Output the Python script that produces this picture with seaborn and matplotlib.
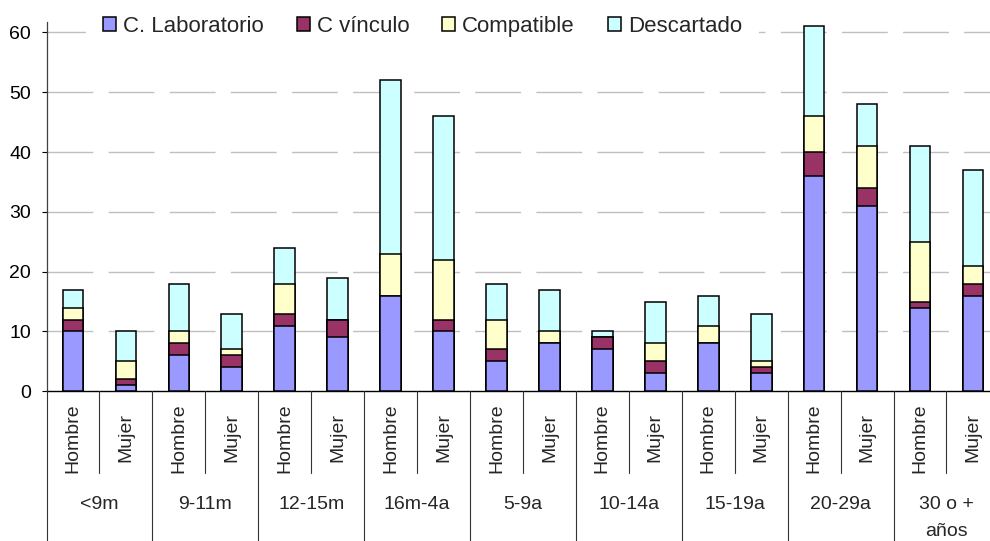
import numpy as np
import pandas as pd
import matplotlib
matplotlib.use("Agg")
import matplotlib.pyplot as plt
import matplotlib.patches as mpatches
from matplotlib.lines import Line2D
from matplotlib.transforms import blended_transform_factory
import seaborn as sns

# ---- data -------------------------------------------------------------
groups = ["<9m", "9-11m", "12-15m", "16m-4a", "5-9a", "10-14a", "15-19a",
          "20-29a", "30 o +\naños"]
sexes = ["Hombre", "Mujer"]

series_names = ["C. Laboratorio", "C vínculo", "Compatible", "Descartado"]
laboratorio = [10, 1, 6, 4, 11, 9, 16, 10, 5, 8, 7, 3, 8, 3, 36, 31, 14, 16]
vinculo     = [2, 1, 2, 2, 2, 3, 0, 2, 2, 0, 2, 2, 0, 1, 4, 3, 1, 2]
compatible  = [2, 3, 2, 1, 5, 0, 7, 10, 5, 2, 0, 3, 3, 1, 6, 7, 10, 3]
descartado  = [3, 5, 8, 6, 6, 7, 29, 24, 6, 7, 1, 7, 5, 8, 15, 7, 16, 16]

colors = ["#9999FF", "#993366", "#FFFFCC", "#CCFFFF"]
y_ticks = [0, 10, 20, 30, 40, 50, 60]

# ---- style ------------------------------------------------------------
sns.set_style("white")
plt.rcParams["font.family"] = ["Liberation Sans", "DejaVu Sans"]
plt.rcParams["lines.scale_dashes"] = False

W, H = 990, 541
fig = plt.figure(figsize=(W / 100, H / 100), dpi=100)
fig.patch.set_facecolor("white")

x0_px, y0_px, y_top_px = 46.5, 391.3, 21.7
slot_px = 52.94
n_slots = len(laboratorio)
ax = fig.add_axes([x0_px / W, (H - y0_px) / H,
                   n_slots * slot_px / W, (y0_px - y_top_px) / H])

slots = np.arange(n_slots)
stack = np.vstack([laboratorio, vinculo, compatible, descartado])
cum = np.cumsum(stack, axis=0)

# stacked bars: draw cumulative totals from the top layer down
for layer in range(3, -1, -1):
    df = pd.DataFrame({"slot": slots, "value": cum[layer]})
    sns.barplot(data=df, x="slot", y="value", color=colors[layer],
                saturation=1, width=0.39, edgecolor="black", linewidth=1.1,
                errorbar=None, ax=ax, zorder=3)

ax.set_xlim(-0.5, n_slots - 0.5)
ax.set_ylim(0, 61.8)
ax.set_xticks([])
ax.set_xlabel("")
ax.set_ylabel("")
ax.set_yticks(y_ticks)
ax.tick_params(axis="y", length=3.6, width=0.8, pad=7.5, labelsize=14,
               colors="black", left=True)

for side in ["top", "right"]:
    ax.spines[side].set_visible(False)
ax.spines["left"].set_color("#404040")
ax.spines["left"].set_linewidth(0.9)
ax.spines["bottom"].set_color("black")
ax.spines["bottom"].set_linewidth(1.0)

# dashed horizontal gridlines
for yv in y_ticks[1:]:
    ax.axhline(yv, color="#C0C0C0", linewidth=1.0,
               linestyle=(0, (33, 11)), zorder=1)

# ---- two-level category axis -------------------------------------------
tr = blended_transform_factory(ax.transData, fig.transFigure)

def fy(px):
    return 1 - px / H

for i in range(n_slots + 1):
    xs = i - 0.5
    y_end = H if i % 2 == 0 else 473
    fig.add_artist(Line2D([xs, xs], [fy(y0_px), fy(y_end)], transform=tr,
                          color="#333333", linewidth=0.8, clip_on=False))

for i in range(n_slots):
    fig.text(i, fy(438), sexes[i % 2], transform=tr, rotation=90,
             ha="center", va="center", fontsize=14)

for g, name in enumerate(groups):
    fig.text(2 * g + 0.5, fy(496), name, transform=tr, ha="center", va="top",
             fontsize=14, linespacing=1.8)

# ---- legend -------------------------------------------------------------
handles = [mpatches.Patch(facecolor=c, edgecolor="black", linewidth=1.1)
           for c in colors]
leg = fig.legend(handles, series_names, loc="upper left",
                 bbox_to_anchor=(86 / W, 1 + 1 / H), ncol=4, fontsize=16,
                 frameon=True, handlelength=0.59, handleheight=0.59,
                 handletextpad=0.31, columnspacing=1.49, borderpad=0.75,
                 borderaxespad=0)
leg.get_frame().set_facecolor("white")
leg.get_frame().set_edgecolor("none")
leg.get_frame().set_alpha(1)

fig.savefig("out.png", dpi=100, facecolor="white")
